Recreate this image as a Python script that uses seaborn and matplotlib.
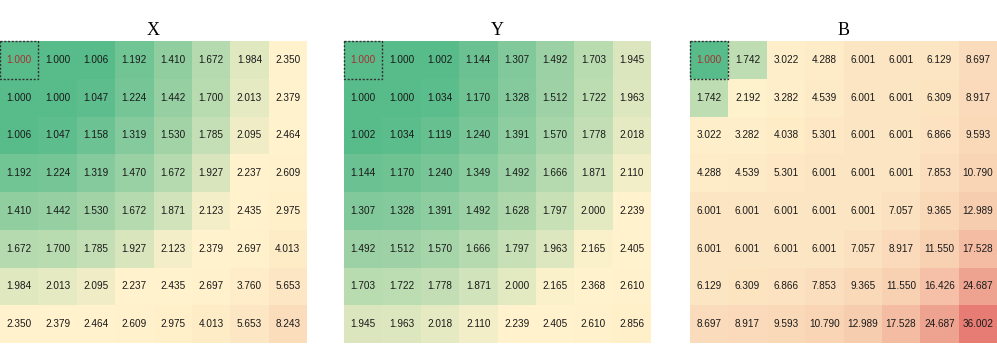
import numpy as np
import matplotlib
matplotlib.use("Agg")
import matplotlib.pyplot as plt
import seaborn as sns
from matplotlib.colors import LinearSegmentedColormap, TwoSlopeNorm
from matplotlib.patches import Rectangle

titles = ["X", "Y", "B"]

X_vals = [
    [1.000, 1.000, 1.006, 1.192, 1.410, 1.672, 1.984, 2.350],
    [1.000, 1.000, 1.047, 1.224, 1.442, 1.700, 2.013, 2.379],
    [1.006, 1.047, 1.158, 1.319, 1.530, 1.785, 2.095, 2.464],
    [1.192, 1.224, 1.319, 1.470, 1.672, 1.927, 2.237, 2.609],
    [1.410, 1.442, 1.530, 1.672, 1.871, 2.123, 2.435, 2.975],
    [1.672, 1.700, 1.785, 1.927, 2.123, 2.379, 2.697, 4.013],
    [1.984, 2.013, 2.095, 2.237, 2.435, 2.697, 3.760, 5.653],
    [2.350, 2.379, 2.464, 2.609, 2.975, 4.013, 5.653, 8.243],
]

Y_vals = [
    [1.000, 1.000, 1.002, 1.144, 1.307, 1.492, 1.703, 1.945],
    [1.000, 1.000, 1.034, 1.170, 1.328, 1.512, 1.722, 1.963],
    [1.002, 1.034, 1.119, 1.240, 1.391, 1.570, 1.778, 2.018],
    [1.144, 1.170, 1.240, 1.349, 1.492, 1.666, 1.871, 2.110],
    [1.307, 1.328, 1.391, 1.492, 1.628, 1.797, 2.000, 2.239],
    [1.492, 1.512, 1.570, 1.666, 1.797, 1.963, 2.165, 2.405],
    [1.703, 1.722, 1.778, 1.871, 2.000, 2.165, 2.368, 2.610],
    [1.945, 1.963, 2.018, 2.110, 2.239, 2.405, 2.610, 2.856],
]

B_vals = [
    [1.000, 1.742, 3.022, 4.288, 6.001, 6.001, 6.129, 8.697],
    [1.742, 2.192, 3.282, 4.539, 6.001, 6.001, 6.309, 8.917],
    [3.022, 3.282, 4.038, 5.301, 6.001, 6.001, 6.866, 9.593],
    [4.288, 4.539, 5.301, 6.001, 6.001, 6.001, 7.853, 10.790],
    [6.001, 6.001, 6.001, 6.001, 6.001, 7.057, 9.365, 12.989],
    [6.001, 6.001, 6.001, 6.001, 7.057, 8.917, 11.550, 17.528],
    [6.129, 6.309, 6.866, 7.853, 9.365, 11.550, 16.426, 24.687],
    [8.697, 8.917, 9.593, 10.790, 12.989, 17.528, 24.687, 36.002],
]

matrices = [X_vals, Y_vals, B_vals]

cmap = LinearSegmentedColormap.from_list("gyr", ["#57bb8a", "#fff2cc", "#e67c73"])
norm = TwoSlopeNorm(vmin=1.0, vcenter=2.2, vmax=36.0)

W, H = 997, 352
fig = plt.figure(figsize=(W / 100, H / 100), dpi=100)

lefts = [0, 344, 690]
for left, title, mat in zip(lefts, titles, matrices):
    ax = fig.add_axes([left / W, 9 / H, 307 / W, 302 / H])
    data = np.array(mat)
    sns.heatmap(data, ax=ax, cmap=cmap, norm=norm, cbar=False,
                annot=True, fmt=".3f",
                annot_kws={"fontsize": 7.2, "color": "#1a1a1a", "family": "Liberation Sans"},
                xticklabels=False, yticklabels=False, linewidths=0)
    ax.texts[0].set_color("#a83232")
    ax.add_patch(Rectangle((0, 0), 1, 1, fill=False, edgecolor="#333333",
                           linestyle=(0, (1.5, 1.2)), linewidth=1.0, clip_on=False))
    ax.set_title(title, fontsize=13, family="Liberation Serif", pad=4)
    ax.tick_params(length=0)
    for s in ax.spines.values():
        s.set_visible(False)

fig.savefig("out.png", dpi=100)
